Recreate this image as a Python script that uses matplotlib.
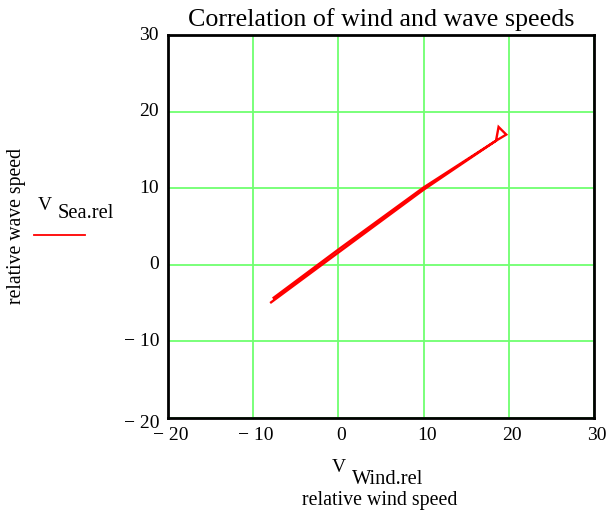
import matplotlib
matplotlib.use("Agg")
import matplotlib.pyplot as plt
from matplotlib.lines import Line2D

# Data
wind_rel = [-7.6, 0.0, 10.0, 18.5, 18.8, 19.7, 18.5, 10.0, 0.0, -7.9]
sea_rel = [-4.3, 2.0, 10.1, 16.2, 18.0, 17.0, 16.2, 9.8, 1.6, -4.9]

x_ticks = [-20, -10, 0, 10, 20, 30]
x_tick_labels = ["\u2212 20", "\u2212 10", "0", "10", "20", "30"]
y_ticks = [-20, -10, 0, 10, 20, 30]
y_tick_labels = ["\u2212 20", "\u2212 10", "0", "10", "20", "30"]

title = "Correlation of wind and wave speeds"
x_label = "relative wind speed"
y_label = "relative wave speed"

W, H = 607, 515
plt.rcParams['font.family'] = ['Liberation Serif', 'DejaVu Serif']

fig = plt.figure(figsize=(W / 100, H / 100), dpi=100)


def px(x, y):
    return x / W, 1 - y / H


L, R, T, B = 168, 594, 35, 418
ax = fig.add_axes([L / W, 1 - B / H, (R - L) / W, (B - T) / H])

ax.plot(wind_rel, sea_rel, color='#ff0000', lw=1.7, solid_joinstyle='miter')

ax.set_xlim(-20, 30)
ax.set_ylim(-20, 30)
ax.set_xticks(x_ticks)
ax.set_yticks(y_ticks)
ax.set_xticklabels([])
ax.set_yticklabels([])
ax.tick_params(length=0)
ax.grid(True, color='#70ff70', lw=1.3)
ax.set_axisbelow(True)
for s in ax.spines.values():
    s.set_color('black')
    s.set_linewidth(2)
    s.set_zorder(5)

# tick labels placed manually (Mathcad style)
for v, lab in zip(x_ticks, x_tick_labels):
    xp = L + (v + 20) / 50 * (R - L) + 3
    fig.text(*px(xp, 435), lab, ha='center', va='center', fontsize=14)
for v, lab in zip(y_ticks, y_tick_labels):
    yp = B - (v + 20) / 50 * (B - T)
    if v == -20:
        yp += 5
    fig.text(*px(159, yp), lab, ha='right', va='center', fontsize=14)

fig.text(*px(381, 20), title, ha='center', va='center', fontsize=18.7)

# y label and legend
fig.text(*px(17, 226), y_label, ha='center', va='center', rotation=90, fontsize=14.2)
fig.text(*px(45, 205), "V", ha='center', va='center', fontsize=14)
fig.text(*px(58, 214), "Sea.rel", ha='left', va='center', fontsize=14.8)
fig.add_artist(Line2D([34 / W, 85 / W], [1 - 235 / H, 1 - 235 / H],
                      color='#ff0000', lw=1.3, transform=fig.transFigure))

# x label
fig.text(*px(339, 468), "V", ha='center', va='center', fontsize=14)
fig.text(*px(352, 479), "Wind.rel", ha='left', va='center', fontsize=14.8)
fig.text(*px(380, 501), x_label, ha='center', va='center', fontsize=14.3)

fig.savefig("out.png", dpi=100)
